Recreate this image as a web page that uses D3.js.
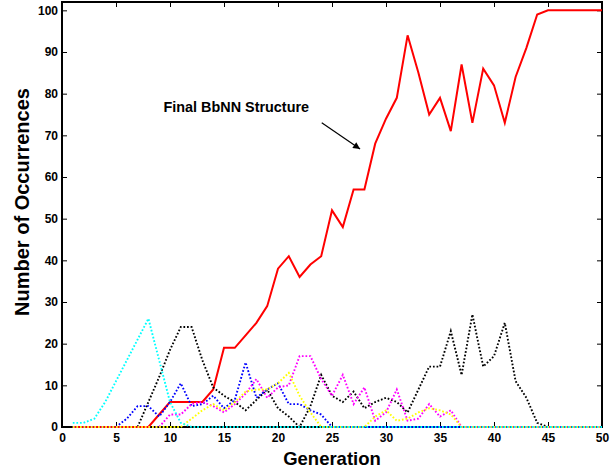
<!DOCTYPE html>
<html>
<head>
<meta charset="utf-8">
<script src="https://cdn.jsdelivr.net/npm/d3@7"></script>
<style>
  body { margin: 0; background: #fff; }
  text { font-family: Arial, "Liberation Sans", sans-serif; font-weight: bold; }
</style>
</head>
<body>
<div id="chart"></div>
<script>
// generations 1..50
var generations = d3.range(1, 51);

// occurrences per generation for each structure
var finalStructure = [0,0,0,0,0,0,0,0,3,6, 6,6,6,9,19,19,22,25,29,38,
  41,36,39,41,52,48,57,57,68,74, 79,94,85,75,79,71,87,73,86,82,
  73,84,91,99,100,100,100,100,100,100];
var cyanSeries = [1,1,2,6,11,16,21,26,16,6, 1,0,0,0,0,0,0,0,0,0,
  0,0,0,0,0,0,0,0,0,0, 0,0,0,0,0,0,0,0,0,0, 0,0,0,0,0,0,0,0,0,0];
var blackSeries = [0,0,0,0,0,0,0,6,12,18.5, 24,24,16,9.5,7.5,6,4,6.5,9,4.5,
  2.5,0,5,12.5,7.5,6,8.5,4.5,6,7, 6,3.5,9,14.5,14.5,23,12.5,27,14.5,17,
  25,11,7,1,0,0,0,0,0,0];
var blueSeries = [0,0,0,0,0,2,5,5,2.5,6, 10.5,5,5.5,7.5,4.5,6.5,15.5,7,9,10.5,
  5.5,5.5,4,3,0,0,0,0,0,0, 0,0,0,0,0,0,0,0,0,0, 0,0,0,0,0,0,0,0,0,0];
var magentaSeries = [0,0,0,0,0,0,0,0,0,3, 3,5.5,6,5,3.5,5.5,8,11.5,7,9.5,
  10,17,17,11.5,7.5,12.5,5.5,9.5,1.5,3.5, 9,1.5,2,5.5,2.5,4,0,0,0,0,
  0,0,0,0,0,0,0,0,0,0];
var yellowSeries = [0,0,0,0,0,0,0,0,0,0, 0,2,4,5.5,4,6,8.5,9,9,10.5,
  13,7.5,3.5,0,0,0,0,0,2.5,4, 1.5,2,3.5,4.5,4,3,0,0,0,0,
  0,0,0,0,0,0,0,0,0,0];

var xTicks = [0,5,10,15,20,25,30,35,40,45,50];
var yTicks = [0,10,20,30,40,50,60,70,80,90,100];

var svgWidth = 613;
var svgHeight = 469;
var margin = { top: 2, right: 11, bottom: 42, left: 62 };
var width = svgWidth - margin.left - margin.right;
var height = svgHeight - margin.top - margin.bottom;

var svg = d3.select("#chart")
  .append("svg")
  .attr("width", svgWidth)
  .attr("height", svgHeight);

var chartGroup = svg.append("g")
  .attr("transform", `translate(${margin.left}, ${margin.top})`);

var xScale = d3.scaleLinear().domain([0, 50]).range([0, width]);
var yScale = d3.scaleLinear().domain([0, 102]).range([height, 0]);

// frame + axes with inward ticks (drawn under the lines)
chartGroup.append("rect")
  .attr("x", 0).attr("y", 0)
  .attr("width", width).attr("height", height)
  .attr("fill", "none")
  .attr("stroke", "#000")
  .attr("stroke-width", 2);

var bottomAxis = d3.axisBottom(xScale).tickValues(xTicks).tickSizeInner(-5).tickSizeOuter(0).tickPadding(6);
var topAxis = d3.axisTop(xScale).tickValues(xTicks).tickSizeInner(-5).tickSizeOuter(0).tickFormat("");
var leftAxis = d3.axisLeft(yScale).tickValues(yTicks).tickSizeInner(-5).tickSizeOuter(0).tickPadding(4);
var rightAxis = d3.axisRight(yScale).tickValues(yTicks).tickSizeInner(-5).tickSizeOuter(0).tickFormat("");

function styleAxis(g) {
  g.select(".domain").remove();
  g.selectAll("line").attr("stroke", "#000").attr("stroke-width", 1);
  g.selectAll("text").attr("font-size", "12px").attr("fill", "#000")
    .attr("font-family", "Arial, 'Liberation Sans', sans-serif").attr("font-weight", "bold");
}

chartGroup.append("g").attr("transform", `translate(0, ${height})`).call(bottomAxis).call(styleAxis);
chartGroup.append("g").call(topAxis).call(styleAxis);
chartGroup.append("g").call(leftAxis).call(styleAxis);
chartGroup.append("g").attr("transform", `translate(${width}, 0)`).call(rightAxis).call(styleAxis);

// series lines
var line = d3.line()
  .x((d, i) => xScale(generations[i]))
  .y(d => yScale(d));

chartGroup.append("path")
  .datum(finalStructure)
  .attr("d", line)
  .attr("fill", "none")
  .attr("stroke", "#ff0000")
  .attr("stroke-width", 2)
  .attr("stroke-linejoin", "miter");

var dotted = [
  { values: blackSeries, color: "#000000" },
  { values: blueSeries, color: "#0000ff" },
  { values: magentaSeries, color: "#ff00ff" },
  { values: yellowSeries, color: "#ffff00" },
  { values: cyanSeries, color: "#00ffff" }
];

dotted.forEach(function(s) {
  chartGroup.append("path")
    .datum(s.values)
    .attr("d", line)
    .attr("fill", "none")
    .attr("stroke", s.color)
    .attr("stroke-width", 1.9)
    .attr("stroke-dasharray", "1.7,1.9");
});

// axis titles
svg.append("text")
  .attr("x", margin.left + width / 2)
  .attr("y", 465)
  .attr("text-anchor", "middle")
  .attr("font-size", "18.5px")
  .text("Generation");

svg.append("text")
  .attr("transform", "translate(29, 202) rotate(-90)")
  .attr("text-anchor", "middle")
  .attr("font-size", "20px")
  .text("Number of Occurrences");

// annotation
svg.append("defs").append("marker")
  .attr("id", "arrow")
  .attr("viewBox", "0 0 10 10")
  .attr("refX", 10).attr("refY", 5)
  .attr("markerWidth", 9).attr("markerHeight", 7)
  .attr("markerUnits", "userSpaceOnUse")
  .attr("orient", "auto")
  .append("path")
  .attr("d", "M0,0 L10,5 L0,10 z")
  .attr("fill", "#000");

chartGroup.append("text")
  .attr("x", xScale(9.4))
  .attr("y", yScale(75.6))
  .attr("font-size", "14.4px")
  .text("Final BbNN Structure");

chartGroup.append("line")
  .attr("x1", xScale(24.05)).attr("y1", yScale(73))
  .attr("x2", xScale(27.6)).attr("y2", yScale(66.7))
  .attr("stroke", "#000")
  .attr("stroke-width", 1.2)
  .attr("marker-end", "url(#arrow)");
</script>
</body>
</html>
